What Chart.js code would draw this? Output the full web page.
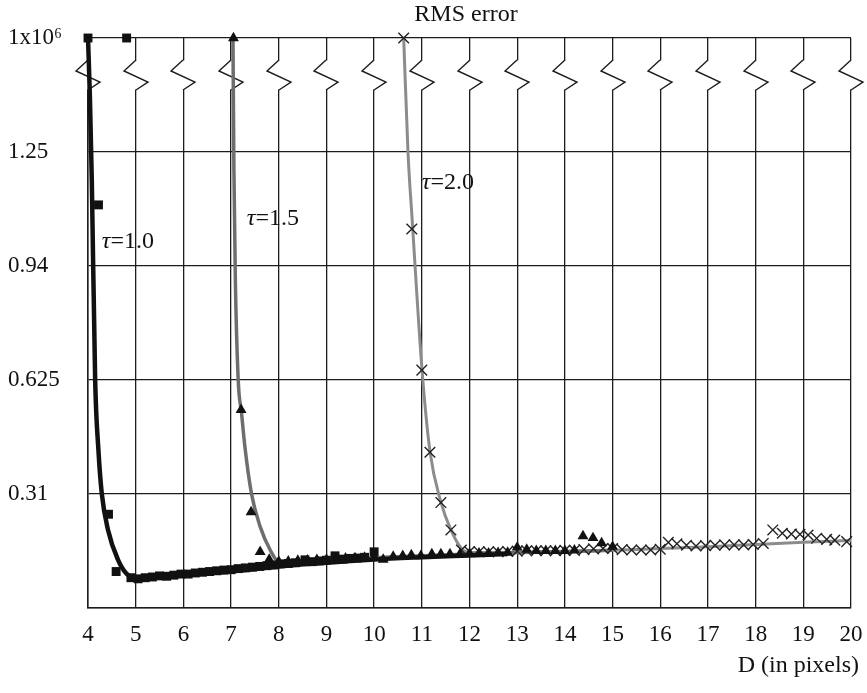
<!DOCTYPE html>
<html>
<head>
<meta charset="utf-8">
<script src="https://cdn.jsdelivr.net/npm/chart.js@4.4.1/dist/chart.umd.min.js"></script>
<style>
  html, body { margin: 0; padding: 0; background: #fff; }
  canvas { display: block; }
</style>
</head>
<body>
<canvas id="c" width="867" height="693"></canvas>
<script>
// ---- Data ----
const xTicks = [4, 5, 6, 7, 8, 9, 10, 11, 12, 13, 14, 15, 16, 17, 18, 19, 20];
const yTickLabels = ['', '0.31', '0.625', '0.94', '1.25', '1x10\u2076'];

// tau = 1.0 : measured points (squares)
const tau10X = [4.0, 4.81, 4.22, 4.43, 4.59, 4.9, 5.05, 5.2, 5.35, 5.5, 5.65, 5.8, 5.95, 6.1, 6.25, 6.4, 6.55, 6.7, 6.85, 7.0, 7.15, 7.3, 7.45, 7.6, 7.75, 7.9, 8.05, 8.2, 8.35, 8.55, 8.7, 8.85, 9.0, 9.18, 9.35, 9.5, 9.65, 9.8, 10.0];
const tau10Y = [1.5625, 1.5625, 1.105, 0.257, 0.100, 0.083, 0.080, 0.083, 0.085, 0.088, 0.087, 0.090, 0.093, 0.093, 0.096, 0.098, 0.100, 0.102, 0.104, 0.105, 0.108, 0.110, 0.112, 0.114, 0.116, 0.118, 0.121, 0.122, 0.124, 0.132, 0.127, 0.129, 0.131, 0.143, 0.134, 0.136, 0.137, 0.139, 0.154];
// tau = 1.0 : fitted curve
const fit10X = [4.0, 4.04, 4.08, 4.15, 4.22, 4.29, 4.42, 4.63, 4.8, 5.0, 6.0, 7.0, 8.0, 9.0, 10.0, 11.0, 12.0, 12.8];
const fit10Y = [1.5625, 1.40, 1.17, 0.625, 0.43, 0.3125, 0.214, 0.132, 0.095, 0.080, 0.090, 0.100, 0.114, 0.124, 0.133, 0.139, 0.144, 0.148];

// tau = 1.5 : measured points (triangles)
const tau15X = [7.05, 7.21, 7.42, 7.61, 7.80, 8.0, 8.2, 8.4, 8.6, 8.8, 9.0, 9.2, 9.4, 9.6, 9.8, 10.0, 10.19, 10.40, 10.60, 10.78, 10.98, 11.21, 11.40, 11.59, 11.8, 12.0, 12.2, 12.4, 12.6, 12.8, 13.0, 13.2, 13.4, 13.6, 13.8, 14.0, 14.2, 14.38, 14.59, 14.77, 15.0];
const tau15Y = [1.5625, 0.543, 0.263, 0.154, 0.133, 0.127, 0.128, 0.130, 0.131, 0.132, 0.133, 0.135, 0.136, 0.137, 0.138, 0.139, 0.133, 0.141, 0.143, 0.145, 0.143, 0.148, 0.148, 0.148, 0.148, 0.149, 0.150, 0.150, 0.151, 0.152, 0.166, 0.160, 0.157, 0.157, 0.157, 0.157, 0.158, 0.197, 0.192, 0.178, 0.168];
// tau = 1.5 : fitted curve
const fit15X = [7.04, 7.06, 7.09, 7.15, 7.22, 7.29, 7.43, 7.61, 7.82, 8.0, 10.0, 12.0, 14.0, 15.0];
const fit15Y = [1.5625, 1.20, 0.90, 0.625, 0.534, 0.442, 0.312, 0.223, 0.159, 0.127, 0.138, 0.148, 0.155, 0.158];

// tau = 2.0 : measured points (crosses)
const tau20X = [10.62, 10.79, 11.0, 11.17, 11.40, 11.61, 11.83, 12.0, 12.2, 12.4, 12.6, 12.8, 13.0, 13.2, 13.4, 13.6, 13.8, 14.0, 14.2, 14.4, 14.6, 14.8, 15.0, 15.2, 15.4, 15.6, 15.8, 16.0, 16.17, 16.35, 16.55, 16.75, 16.95, 17.15, 17.35, 17.55, 17.75, 17.95, 18.16, 18.36, 18.56, 18.75, 18.93, 19.10, 19.28, 19.49, 19.66, 19.91];
const tau20Y = [1.5625, 1.039, 0.652, 0.427, 0.289, 0.214, 0.159, 0.155, 0.154, 0.154, 0.154, 0.155, 0.156, 0.157, 0.157, 0.157, 0.157, 0.158, 0.158, 0.160, 0.162, 0.163, 0.163, 0.160, 0.159, 0.159, 0.159, 0.161, 0.180, 0.176, 0.172, 0.170, 0.171, 0.172, 0.173, 0.173, 0.173, 0.174, 0.177, 0.214, 0.205, 0.203, 0.202, 0.200, 0.191, 0.188, 0.186, 0.182];
// tau = 2.0 : fitted curve
const fit20X = [10.62, 10.71, 10.80, 11.0, 11.17, 11.40, 11.61, 11.85, 12.0, 13.0, 14.0, 15.0, 16.0, 17.0, 18.0, 19.0, 20.0];
const fit20Y = [1.5625, 1.25, 1.06, 0.66, 0.43, 0.29, 0.214, 0.160, 0.152, 0.153, 0.155, 0.158, 0.163, 0.168, 0.174, 0.180, 0.185];

const curveLabels = ['\u03c4=1.0', '\u03c4=1.5', '\u03c4=2.0'];

// ---- helpers ----
const pts = (xs, ys) => xs.map((x, i) => ({ x: x, y: ys[i] }));
const SERIF = '"Liberation Serif", "DejaVu Serif", serif';

const breakPlugin = {
  id: 'breaks',
  beforeDraw(chart) {
    const ctx = chart.ctx;
    ctx.save();
    ctx.fillStyle = '#fff';
    ctx.fillRect(0, 0, chart.width, chart.height);
    ctx.restore();
  },
  beforeDatasetsDraw(chart) {
    const ctx = chart.ctx;
    const a = chart.chartArea;
    const xs = chart.scales.x;
    const y0 = a.top + 22, y1 = a.top + 33, y2 = a.top + 44, y3 = a.top + 52;
    ctx.save();
    ctx.fillStyle = '#fff';
    ctx.fillRect(a.left - 16, y0 + 0.5, a.right - a.left + 32, y3 - y0 - 1);
    ctx.strokeStyle = '#1c1c1c';
    ctx.lineWidth = 1.4;
    ctx.lineJoin = 'miter';
    xTicks.forEach(v => {
      const px = Math.round(xs.getPixelForValue(v));
      ctx.beginPath();
      ctx.moveTo(px, y0);
      ctx.lineTo(px - 12, y1);
      ctx.lineTo(px + 12, y2);
      ctx.lineTo(px, y3);
      ctx.stroke();
    });
    ctx.restore();
  },
  afterDraw(chart) {
    const ctx = chart.ctx;
    const a = chart.chartArea;
    const xs = chart.scales.x, ys = chart.scales.y;
    ctx.save();
    ctx.fillStyle = '#111';
    ctx.textBaseline = 'middle';
    // title
    ctx.font = '24px ' + SERIF;
    ctx.textAlign = 'center';
    ctx.fillText('RMS error', 466, 15);
    // x axis title
    ctx.font = '24px ' + SERIF;
    ctx.textAlign = 'right';
    ctx.fillText('D (in pixels)', 859, 666);
    // curve labels
    const anchors = [[4.29, 1.003], [7.33, 1.066], [11.0, 1.165]];
    curveLabels.forEach((t, i) => {
      const px = xs.getPixelForValue(anchors[i][0]);
      const py = ys.getPixelForValue(anchors[i][1]);
      ctx.textAlign = 'left';
      ctx.font = 'italic 24px ' + SERIF;
      const tau = t.charAt(0);
      ctx.fillText(tau, px, py);
      const w = ctx.measureText(tau).width;
      ctx.font = '24px ' + SERIF;
      ctx.fillText(t.slice(1), px + w, py);
    });
    ctx.restore();
  }
};

new Chart(document.getElementById('c'), {
  type: 'scatter',
  data: {
    datasets: [
      { label: 'tau1.0 pts', data: pts(tau10X, tau10Y), pointStyle: 'rect', pointRadius: 6.3, backgroundColor: '#111', borderColor: '#111', borderWidth: 0, showLine: false, clip: false, order: 0 },
      { label: 'tau1.5 pts', data: pts(tau15X, tau15Y), pointStyle: 'triangle', pointRadius: 6.3, backgroundColor: '#111', borderColor: '#111', borderWidth: 0, showLine: false, clip: false, order: 0 },
      { label: 'tau2.0 pts', data: pts(tau20X, tau20Y), pointStyle: 'crossRot', pointRadius: 7.5, backgroundColor: '#222', borderColor: '#222', borderWidth: 1.4, showLine: false, clip: false, order: 0 },
      { label: 'tau1.0 fit', data: pts(fit10X, fit10Y), showLine: true, borderColor: '#111', borderWidth: 4.5, pointRadius: 0, cubicInterpolationMode: 'monotone', clip: false, order: 1 },
      { label: 'tau1.5 fit', data: pts(fit15X, fit15Y), showLine: true, borderColor: '#6e6e6e', borderWidth: 3.5, pointRadius: 0, cubicInterpolationMode: 'monotone', clip: false, order: 2 },
      { label: 'tau2.0 fit', data: pts(fit20X, fit20Y), showLine: true, borderColor: '#8c8c8c', borderWidth: 3, pointRadius: 0, cubicInterpolationMode: 'monotone', clip: false, order: 3 }
    ]
  },
  options: {
    responsive: false,
    animation: false,
    devicePixelRatio: 1,
    layout: { padding: { top: 38, right: 16, left: 8, bottom: 0 } },
    plugins: { legend: { display: false }, title: { display: false }, tooltip: { enabled: false } },
    scales: {
      x: {
        type: 'linear', min: 4, max: 20,
        afterBuildTicks: (scale) => { scale.ticks = xTicks.map(v => ({ value: v })); },
        ticks: { color: '#111', font: { family: SERIF, size: 23 }, padding: 13, maxRotation: 0, autoSkip: false },
        grid: { color: '#1c1c1c', lineWidth: 1.3, drawTicks: false },
        border: { display: true, color: '#1c1c1c', width: 1.5 },
        afterFit: (scale) => { scale.height = 85; scale.paddingLeft = 0; scale.paddingRight = 0; }
      },
      y: {
        type: 'linear', min: 0, max: 1.5625,
        ticks: { stepSize: 0.3125, color: '#111', font: { family: SERIF, size: 23 }, crossAlign: 'far', padding: 0,
                 callback: (v, i) => yTickLabels[i] },
        grid: { color: '#1c1c1c', lineWidth: 1.3, drawTicks: false },
        border: { display: true, color: '#1c1c1c', width: 1.5 },
        afterFit: (scale) => { scale.width = 80; }
      }
    }
  },
  plugins: [breakPlugin]
});
</script>
</body>
</html>
